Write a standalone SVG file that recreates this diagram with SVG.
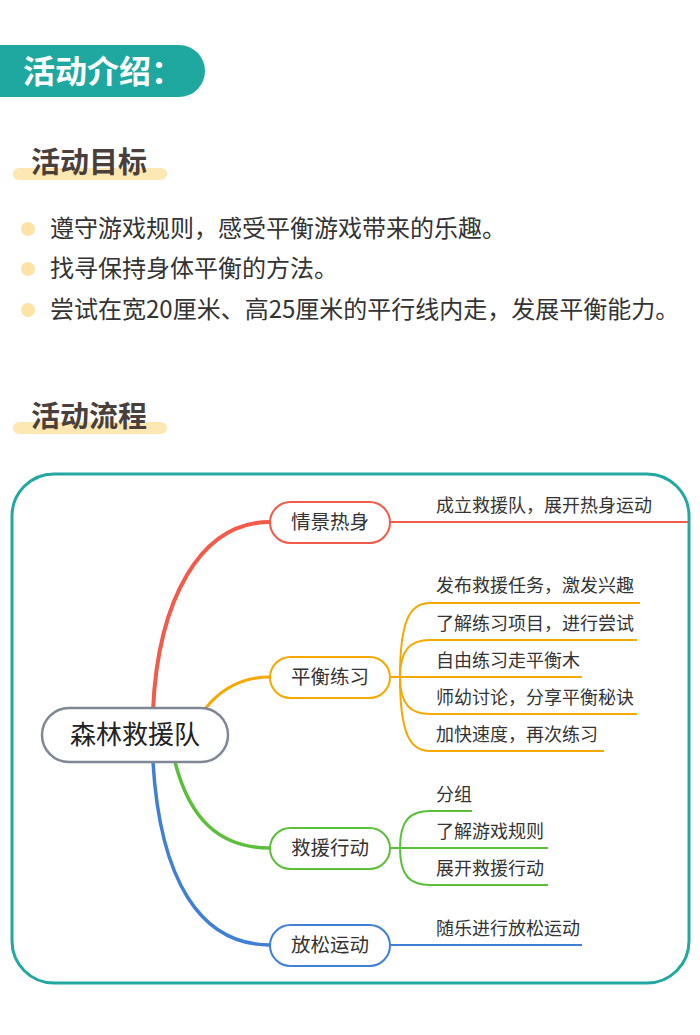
<svg xmlns="http://www.w3.org/2000/svg" width="700" height="1035" viewBox="0 0 700 1035">
<style>
text{font-family:"Noto Sans CJK SC","Noto Sans",sans-serif}
.b{font-size:24px;fill:#333}
.sec{font-size:29px;font-weight:bold;fill:#4a403b}
.n{font-size:19.5px;fill:#333}
.l{font-size:18px;fill:#333}
.hl{fill:#fde8b4}
.dot{fill:#fde3a6}
</style>
<rect width="700" height="1035" fill="#fff"/>
<path d="M0 45 H179 A26 26 0 0 1 179 97 H0 Z" fill="#1fa8a0"/>
<text x="23" y="83" font-size="32" font-weight="bold" fill="#fff">活动介绍：</text>
<rect class="hl" x="13" y="168" width="154" height="12" rx="6"/>
<text class="sec" x="31" y="173">活动目标</text>
<circle class="dot" cx="28" cy="229" r="7"/><text class="b" x="50" y="237">遵守游戏规则，感受平衡游戏带来的乐趣。</text>
<circle class="dot" cx="28" cy="269" r="7"/><text class="b" x="50" y="277">找寻保持身体平衡的方法。</text>
<circle class="dot" cx="28" cy="310" r="7"/><text class="b" x="50" y="318">尝试在宽20厘米、高25厘米的平行线内走，发展平衡能力。</text>
<rect class="hl" x="13" y="422" width="154" height="12" rx="6"/>
<text class="sec" x="31" y="427">活动流程</text>
<rect x="12" y="474" width="677" height="509" rx="42" fill="none" stroke="#22a8a0" stroke-width="3"/>
<g id="connectors" fill="none">
<path d="M153 710 C158 600 200 522 270 522" stroke="#f25a4a" stroke-width="4"/>
<path d="M205 709 C220 690 240 677 270 677" stroke="#f5a800" stroke-width="3"/>
<path d="M175 762 C190 820 220 848 270 848" stroke="#5bbf3a" stroke-width="3.5"/>
<path d="M153 762 C160 880 200 945 270 945" stroke="#3f7fd6" stroke-width="3.5"/>
<path d="M390 522 H400 V522 H688" stroke="#f25a4a" stroke-width="2"/>
<g stroke="#f5a800" stroke-width="2">
<path d="M390 677 H400 C400 620 410 603 430 603 H640"/>
<path d="M400 677 C400 650 410 640 430 640 H637"/>
<path d="M400 677 H582"/>
<path d="M400 677 C400 704 410 714 430 714 H637"/>
<path d="M400 677 C400 734 410 751 430 751 H604"/>
</g>
<g stroke="#5bbf3a" stroke-width="2">
<path d="M390 848 H400 C400 820 410 811 430 811 H472"/>
<path d="M400 848 H548"/>
<path d="M400 848 C400 876 410 885 430 885 H548"/>
</g>
<path d="M390 945 H582" stroke="#3f7fd6" stroke-width="2"/>
</g>
<g id="root"><rect x="42" y="708" width="186" height="54" rx="27" fill="#fff" stroke="#7f8794" stroke-width="2.5"/><text x="135" y="744" font-size="26" fill="#222" text-anchor="middle">森林救援队</text></g>
<g id="n1"><rect x="270" y="502" width="120" height="41" rx="20.5" fill="#fff" stroke="#f25a4a" stroke-width="2"/><text class="n" x="330" y="529" text-anchor="middle">情景热身</text></g>
<g id="n2"><rect x="270" y="657" width="120" height="41" rx="20.5" fill="#fff" stroke="#f5a800" stroke-width="2"/><text class="n" x="330" y="684" text-anchor="middle">平衡练习</text></g>
<g id="n3"><rect x="270" y="828" width="120" height="41" rx="20.5" fill="#fff" stroke="#5bbf3a" stroke-width="2"/><text class="n" x="330" y="855" text-anchor="middle">救援行动</text></g>
<g id="n4"><rect x="270" y="925" width="120" height="41" rx="20.5" fill="#fff" stroke="#3f7fd6" stroke-width="2"/><text class="n" x="330" y="952" text-anchor="middle">放松运动</text></g>
<g id="leaves">
<text class="l" x="436" y="512">成立救援队，展开热身运动</text>
<text class="l" x="436" y="592">发布救援任务，激发兴趣</text>
<text class="l" x="436" y="630">了解练习项目，进行尝试</text>
<text class="l" x="436" y="667">自由练习走平衡木</text>
<text class="l" x="436" y="704">师幼讨论，分享平衡秘诀</text>
<text class="l" x="436" y="741">加快速度，再次练习</text>
<text class="l" x="436" y="801">分组</text>
<text class="l" x="436" y="838">了解游戏规则</text>
<text class="l" x="436" y="875">展开救援行动</text>
<text class="l" x="436" y="935">随乐进行放松运动</text>
</g>
</svg>
